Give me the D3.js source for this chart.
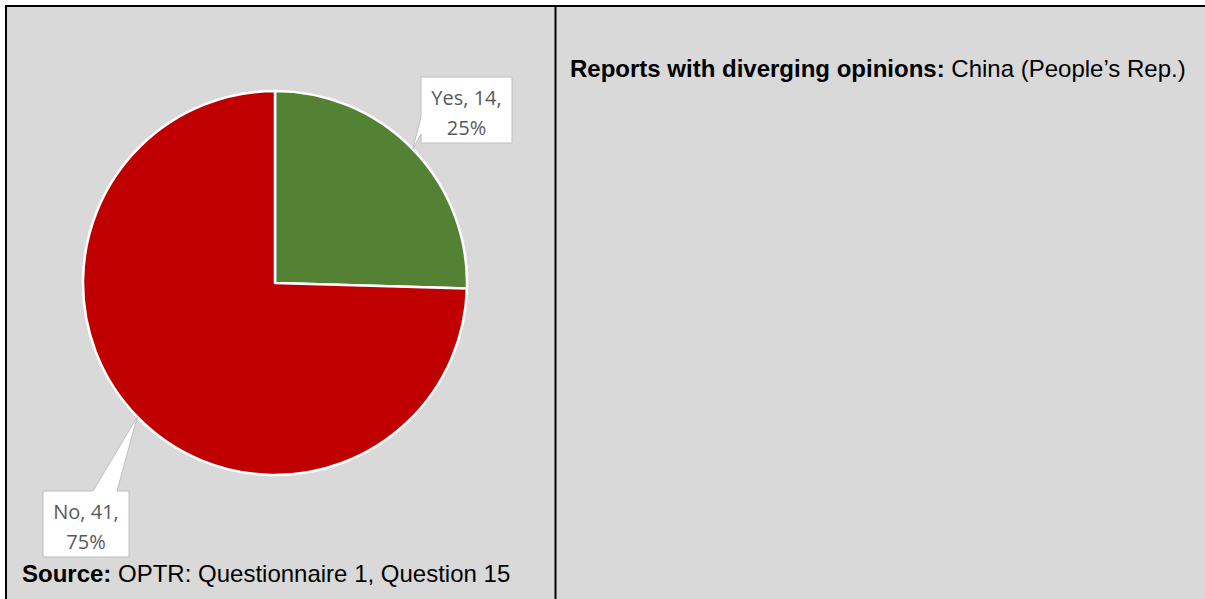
<!DOCTYPE html>
<html>
<head>
<meta charset="utf-8">
<script src="https://cdn.jsdelivr.net/npm/d3@7"></script>
<style>
  html, body { margin: 0; padding: 0; background: #ffffff; }
  svg { display: block; }
</style>
</head>
<body>
<svg id="chart"></svg>
<script>
// Data
const categories = ["Yes", "No"];
const counts = [14, 41];
const sliceColors = ["#548235", "#c00000"];
const sourceLabel = "Source:";
const sourceText = " OPTR: Questionnaire 1, Question 15";
const noteLabel = "Reports with diverging opinions:";
const noteText = " China (People\u2019s Rep.)";

const W = 1205, H = 599;
const svg = d3.select("#chart").attr("width", W).attr("height", H);

// Panels background
svg.append("rect")
    .attr("x", 6).attr("y", 6)
    .attr("width", W - 6).attr("height", H - 6)
    .attr("fill", "#d9d9d9");

// Table borders
svg.append("line")
    .attr("x1", 5).attr("x2", W).attr("y1", 6).attr("y2", 6)
    .attr("stroke", "#000").attr("stroke-width", 2);
svg.append("line")
    .attr("x1", 6).attr("x2", 6).attr("y1", 5).attr("y2", H)
    .attr("stroke", "#000").attr("stroke-width", 2);
svg.append("line")
    .attr("x1", 555.5).attr("x2", 555.5).attr("y1", 5).attr("y2", H)
    .attr("stroke", "#000").attr("stroke-width", 2);

// Pie
const cx = 275, cy = 283, radius = 192;
const total = d3.sum(counts);
const pieData = d3.pie().sort(null).value(d => d)(counts);
const arc = d3.arc().innerRadius(0).outerRadius(radius);

const g = svg.append("g").attr("transform", `translate(${cx},${cy})`);
g.selectAll("path.slice")
    .data(pieData)
    .enter()
    .append("path")
    .attr("class", "slice")
    .attr("d", arc)
    .attr("fill", (d, i) => sliceColors[i])
    .attr("stroke", "#ffffff")
    .attr("stroke-width", 2.5)
    .attr("stroke-linejoin", "round");

// Callout labels (box position on the page, pointer tip at slice mid-angle on the edge)
const boxes = [
    {x: 421, y: 77, w: 91, h: 66, base: "left", b0: 117, b1: 134},
    {x: 43, y: 491, w: 86, h: 66, base: "top", b0: 93, b1: 117}
];

pieData.forEach((d, i) => {
    const mid = (d.startAngle + d.endAngle) / 2;
    const tx = cx + radius * Math.sin(mid);
    const ty = cy - radius * Math.cos(mid);
    const b = boxes[i];
    let pts;
    if (b.base === "left") {
        pts = [[b.x, b.y], [b.x + b.w, b.y], [b.x + b.w, b.y + b.h], [b.x, b.y + b.h],
               [b.x, b.b1], [tx, ty], [b.x, b.b0]];
    } else {
        pts = [[b.x, b.y], [b.b0, b.y], [tx, ty], [b.b1, b.y], [b.x + b.w, b.y],
               [b.x + b.w, b.y + b.h], [b.x, b.y + b.h]];
    }
    svg.append("path")
        .attr("d", d3.line()(pts) + "Z")
        .attr("fill", "#ffffff")
        .attr("stroke", "#bfbfbf")
        .attr("stroke-width", 1);

    const pct = Math.round(counts[i] / total * 100);
    const t = svg.append("text")
        .attr("x", b.x + b.w / 2)
        .attr("y", b.y + 28)
        .attr("text-anchor", "middle")
        .attr("font-family", "'Open Sans', 'Noto Sans', sans-serif")
        .attr("font-size", 20)
        .attr("fill", "#595959");
    t.append("tspan").attr("x", b.x + b.w / 2).text(`${categories[i]}, ${counts[i]},`);
    t.append("tspan").attr("x", b.x + b.w / 2).attr("dy", 30).text(`${pct}%`);
});

// Source line
const src = svg.append("text")
    .attr("x", 22).attr("y", 582)
    .attr("font-family", "'Liberation Sans', Arial, sans-serif")
    .attr("font-size", 24)
    .attr("fill", "#000");
src.append("tspan").attr("font-weight", "bold").text(sourceLabel);
src.append("tspan").attr("xml:space", "preserve").text(sourceText);

// Right panel note
const note = svg.append("text")
    .attr("x", 570).attr("y", 77)
    .attr("font-family", "'Liberation Sans', Arial, sans-serif")
    .attr("font-size", 24)
    .attr("fill", "#000");
note.append("tspan").attr("font-weight", "bold").text(noteLabel);
note.append("tspan").attr("xml:space", "preserve").text(noteText);
</script>
</body>
</html>
